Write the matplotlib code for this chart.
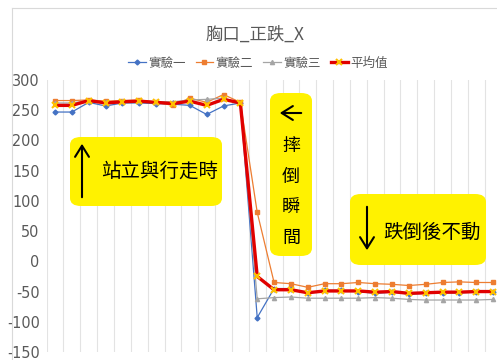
import matplotlib
matplotlib.use("Agg")
import matplotlib.pyplot as plt
from matplotlib.patches import FancyBboxPatch
from matplotlib.lines import Line2D
import numpy as np

plt.rcParams['font.family'] = ['Noto Sans CJK TC', 'DejaVu Sans']

title = "胸口_正跌_X"
series_names = ["實驗一", "實驗二", "實驗三", "平均值"]
y_ticks = [-150, -100, -50, 0, 50, 100, 150, 200, 250, 300]

exp1 = [247, 247, 263, 257, 262, 262, 261, 260, 258, 243, 257, 262,
        -93, -45, -45, -53, -48, -48, -50, -53, -51, -54, -53, -52, -52, -51, -51]
exp2 = [266, 266, 267, 265, 266, 267, 263, 258, 270, 263, 276, 263,
        81, -35, -37, -43, -37, -37, -35, -37, -38, -40, -38, -35, -34, -35, -35]
exp3 = [262, 262, 266, 263, 265, 265, 264, 264, 267, 268, 270, 262,
        -62, -60, -59, -61, -61, -61, -61, -60, -61, -63, -64, -64, -64, -64, -63]
avg = [258, 258, 266, 262, 264, 265, 263, 261, 265, 258, 268, 262,
       -25, -47, -47, -52, -49, -49, -49, -51, -50, -53, -52, -51, -51, -50, -50]

x = np.arange(len(avg))

W, H = 497, 360
fig = plt.figure(figsize=(W / 100, H / 100), dpi=100)

def fx(px):
    return px / W

def fy(py):
    return 1 - py / H

# chart border
fig.add_artist(Line2D([fx(12), fx(12)], [fy(8), fy(360)], color="#D9D9D9", lw=0.8))
fig.add_artist(Line2D([fx(12), fx(497)], [fy(8), fy(8)], color="#D9D9D9", lw=0.8))

ax_left, ax_right = 46.6, 46.6 + 27 * 16.85
ax_top, ax_bot = 80, 352
ax = fig.add_axes([fx(ax_left), fy(ax_bot), fx(ax_right - ax_left), (ax_bot - ax_top) / H])

ax.set_xlim(-0.5, len(avg) - 0.5)
ax.set_ylim(-150, 300)
ax.set_yticks(y_ticks)
ax.set_yticklabels([str(v) for v in y_ticks], color="#595959", fontsize=11.5,
                   family=['DejaVu Sans'], stretch='condensed')
ax.set_xticks([])
for b in np.arange(-0.5, len(avg), 1.0):
    ax.axvline(b, color="#E3E3E3", lw=0.8, zorder=0)
for s in ax.spines.values():
    s.set_visible(False)
ax.tick_params(axis='y', length=0, pad=5)

ax.plot(x, exp1, color="#4472C4", lw=0.9, marker="D", ms=2.5, label=series_names[0], zorder=3)
ax.plot(x, exp2, color="#ED7D31", lw=0.9, marker="s", ms=3.5, label=series_names[1], zorder=3)
ax.plot(x, exp3, color="#A5A5A5", lw=0.9, marker="^", ms=3, label=series_names[2], zorder=3)
ax.plot(x, avg, color="#E00000", lw=2.4, marker="x", ms=4, mec="#FFC000", mew=1.5,
        label=series_names[3], zorder=4)

fig.text(fx(255), fy(35), title, ha="center", va="center", fontsize=12.5, color="#595959")
leg = fig.legend(loc="center", bbox_to_anchor=(fx(258), fy(63)), ncol=4, frameon=False,
                 fontsize=9, handlelength=1.4, handletextpad=0.2, columnspacing=0.8,
                 labelcolor="#595959")

yellow = "#FFF200"
def box(x0, y0, x1, y1):
    fig.add_artist(FancyBboxPatch((fx(x0), fy(y1)), fx(x1 - x0), (y1 - y0) / H,
                                  boxstyle="round,pad=0,rounding_size=0.022",
                                  fc=yellow, ec="none", zorder=5))

def arrow(x0, y0, x1, y1):
    fig.add_artist(matplotlib.patches.FancyArrowPatch((fx(x0), fy(y0)), (fx(x1), fy(y1)),
                   arrowstyle="->,head_length=8,head_width=5", color="black", lw=1.5,
                   mutation_scale=1, zorder=6))

box(70, 137, 222, 206)
arrow(82, 200, 82, 141)
fig.text(fx(160), fy(171), "站立與行走時", ha="center", va="center", fontsize=14, zorder=6)

box(270, 93, 312, 256)
arrow(304, 113, 277, 113)
for ch, cy in zip("摔倒瞬間", [146, 177, 208, 238]):
    fig.text(fx(291), fy(cy), ch, ha="center", va="center", fontsize=13, zorder=6)

box(350, 194, 486, 265)
arrow(367, 204, 367, 253)
fig.text(fx(432), fy(232), "跌倒後不動", ha="center", va="center", fontsize=14, zorder=6)

fig.savefig("out.png", dpi=100)
